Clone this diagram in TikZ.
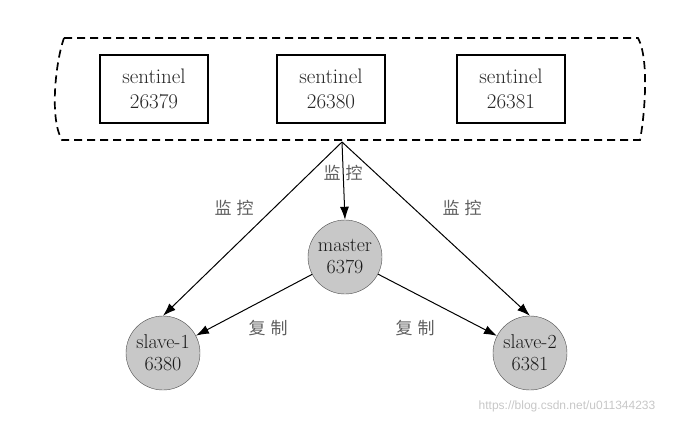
\documentclass[tikz,border=0pt]{standalone}
\usepackage{fontspec}
\newfontfamily\cjk{Noto Sans CJK SC}
\newfontfamily\wmfont{Liberation Sans}
\usetikzlibrary{arrows.meta}
\definecolor{nodegray}{RGB}{200,200,200}
\definecolor{labgray}{RGB}{95,95,95}
\tikzset{
	sbox/.style={draw, line width=1.7pt, minimum width=108pt, minimum height=68pt, align=center, font=\fontsize{21}{25}\selectfont, text=black!85},
	snode/.style={draw=black!70, fill=nodegray, circle, minimum size=74pt, inner sep=0pt, align=center, font=\fontsize{20}{22}\selectfont, text=black!90},
	lab/.style={font=\cjk\fontsize{17}{19}\selectfont, text=labgray},
	link/.style={line width=1pt, -{Latex[length=13pt,width=9pt]}}
}
\begin{document}
\begin{tikzpicture}[x=1pt,y=-1pt]
	\useasboundingbox (0,0) rectangle (693,424);
	% sentinel group
	\draw[line width=1.7pt, dash pattern=on 8pt off 5pt] (64,38) -- (638,38) .. controls (650,60) and (644,120) .. (640,140) -- (62,140) .. controls (49,118) and (56,60) .. (64,38);
	\node[sbox] (s1) at (154,89) {sentinel\\26379};
	\node[sbox] (s2) at (331,89) {sentinel\\26380};
	\node[sbox] (s3) at (511,89) {sentinel\\26381};
	\coordinate (grp) at (342,142);
	% redis nodes
	\node[snode] (ms) at (345,257) {master\\6379};
	\node[snode] (sl1) at (163,353) {slave-1\\6380};
	\node[snode] (sl2) at (530,353) {slave-2\\6381};
	% monitoring
	\draw[link] (grp) -- (sl1.north);
	\draw[link] (grp) -- (ms.north);
	\draw[link] (grp) -- (sl2.north);
	\node[lab] (m1) at (234,208) {监\hspace{5pt}控};
	\node[lab] (m2) at (343,173) {监\hspace{5pt}控};
	\node[lab] (m3) at (462,208) {监\hspace{5pt}控};
	% replication
	\draw[link] (ms) -- (sl1);
	\draw[link] (ms) -- (sl2);
	\node[lab] (r1) at (268,328) {复\hspace{5pt}制};
	\node[lab] (r2) at (415,328) {复\hspace{5pt}制};
	\node[font=\wmfont\fontsize{12}{14}\selectfont, text=black!22] (wm) at (567,406) {https://blog.csdn.net/u011344233};
\end{tikzpicture}
\end{document}
